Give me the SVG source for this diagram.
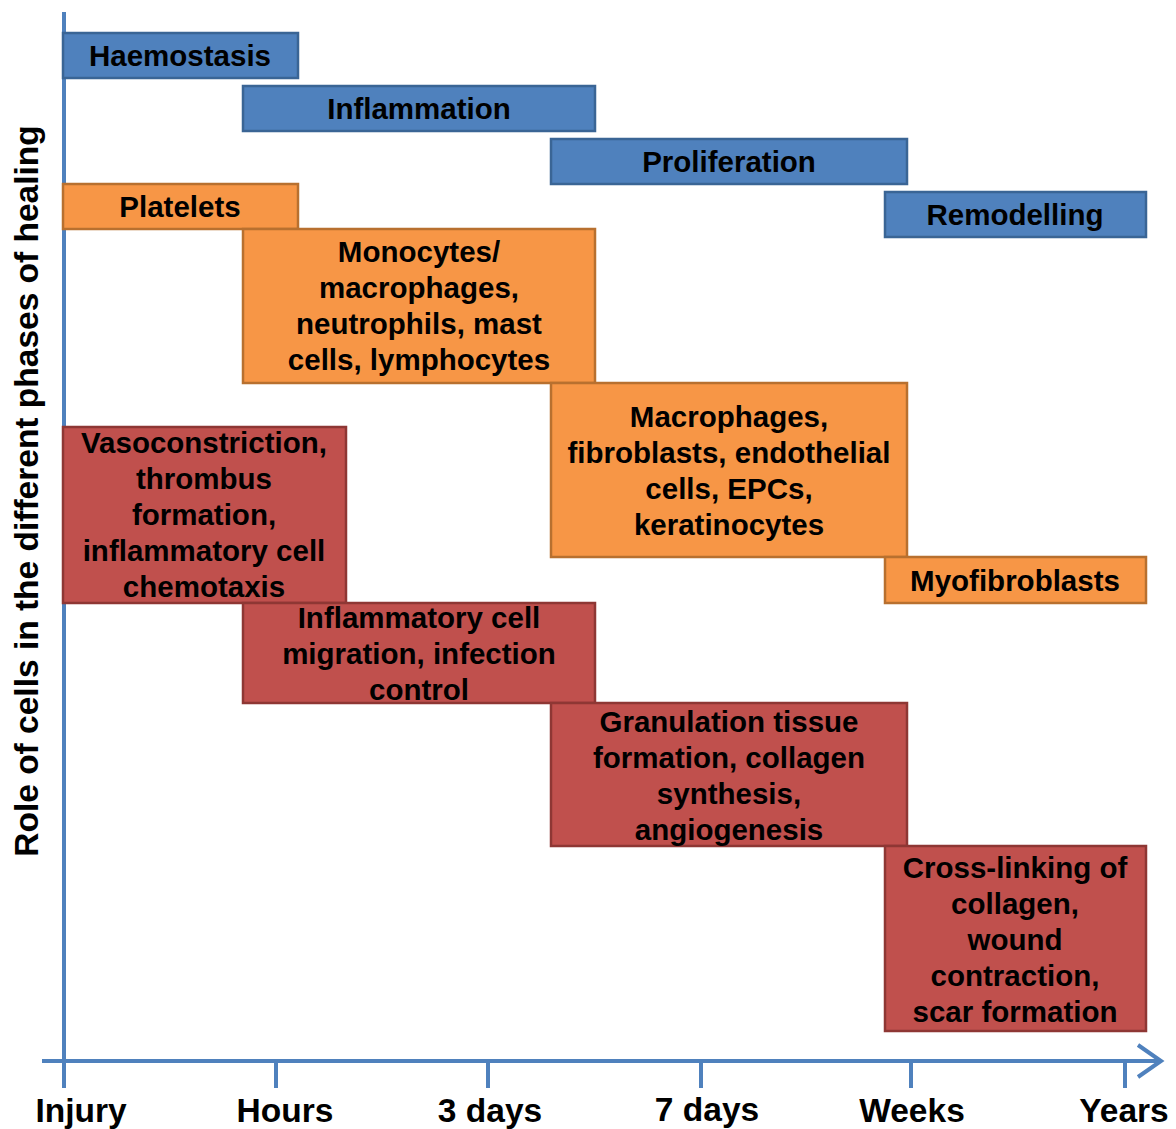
<svg xmlns="http://www.w3.org/2000/svg" width="1176" height="1129" viewBox="0 0 1176 1129">
<style>
text{font-family:"Liberation Sans",Arial,sans-serif;font-weight:bold;fill:#000;text-anchor:middle}
.t{font-size:29.5px}
.ax{font-size:33.5px}
.blue{fill:#4F81BD;stroke:#3A6595;stroke-width:2.5}
.orange{fill:#F79646;stroke:#B8702F;stroke-width:2.5}
.red{fill:#C0504D;stroke:#8E3734;stroke-width:2.5}
.axis{stroke:#4F81BD;stroke-width:4;fill:none}
</style>
<rect width="1176" height="1129" fill="#fff"/>
<g id="axes">
<line class="axis" x1="64" y1="12" x2="64" y2="1088"/>
<line class="axis" x1="42" y1="1061" x2="1160" y2="1061"/>
<polyline class="axis" points="1138,1045 1161,1061 1138,1077" stroke-width="5"/>
<line class="axis" x1="276" y1="1061" x2="276" y2="1088"/>
<line class="axis" x1="488" y1="1061" x2="488" y2="1088"/>
<line class="axis" x1="701" y1="1061" x2="701" y2="1088"/>
<line class="axis" x1="911" y1="1061" x2="911" y2="1088"/>
<line class="axis" x1="1125" y1="1061" x2="1125" y2="1088"/>
<text class="ax" x="81" y="1122">Injury</text>
<text class="ax" x="285" y="1122">Hours</text>
<text class="ax" x="490" y="1122">3 days</text>
<text class="ax" x="707" y="1121">7 days</text>
<text class="ax" x="912" y="1122">Weeks</text>
<text class="ax" x="1124" y="1122">Years</text>
<text class="ax" transform="translate(38,491) rotate(-90)">Role of cells in the different phases of healing</text>
</g>
<g id="haemostasis"><rect class="blue" x="63" y="33" width="235" height="45"/><text class="t" x="180" y="66">Haemostasis</text></g>
<g id="inflammation"><rect class="blue" x="243" y="86" width="352" height="45"/><text class="t" x="419" y="119">Inflammation</text></g>
<g id="proliferation"><rect class="blue" x="551" y="139" width="356" height="45"/><text class="t" x="729" y="172">Proliferation</text></g>
<g id="remodelling"><rect class="blue" x="885" y="192" width="261" height="45"/><text class="t" x="1015" y="225">Remodelling</text></g>
<g id="platelets"><rect class="orange" x="63" y="184" width="235" height="45"/><text class="t" x="180" y="217">Platelets</text></g>
<g id="monocytes"><rect class="orange" x="243" y="229" width="352" height="154"/><text class="t" x="419"><tspan x="419" y="262">Monocytes/</tspan><tspan x="419" y="298">macrophages,</tspan><tspan x="419" y="334">neutrophils, mast</tspan><tspan x="419" y="370">cells, lymphocytes</tspan></text></g>
<g id="macrophages"><rect class="orange" x="551" y="383" width="356" height="174"/><text class="t"><tspan x="729" y="427">Macrophages,</tspan><tspan x="729" y="463">fibroblasts, endothelial</tspan><tspan x="729" y="499">cells, EPCs,</tspan><tspan x="729" y="535">keratinocytes</tspan></text></g>
<g id="myofibroblasts"><rect class="orange" x="885" y="557" width="261" height="46"/><text class="t" x="1015" y="591">Myofibroblasts</text></g>
<g id="vasoconstriction"><rect class="red" x="63" y="427" width="283" height="176"/><text class="t"><tspan x="204" y="453">Vasoconstriction,</tspan><tspan x="204" y="489">thrombus</tspan><tspan x="204" y="525">formation,</tspan><tspan x="204" y="561">inflammatory cell</tspan><tspan x="204" y="597">chemotaxis</tspan></text></g>
<g id="migration"><rect class="red" x="243" y="603" width="352" height="100"/><text class="t"><tspan x="419" y="628">Inflammatory cell</tspan><tspan x="419" y="664">migration, infection</tspan><tspan x="419" y="700">control</tspan></text></g>
<g id="granulation"><rect class="red" x="551" y="703" width="356" height="143"/><text class="t"><tspan x="729" y="732">Granulation tissue</tspan><tspan x="729" y="768">formation, collagen</tspan><tspan x="729" y="804">synthesis,</tspan><tspan x="729" y="840">angiogenesis</tspan></text></g>
<g id="crosslinking"><rect class="red" x="885" y="846" width="261" height="185"/><text class="t"><tspan x="1015" y="878">Cross-linking of</tspan><tspan x="1015" y="914">collagen,</tspan><tspan x="1015" y="950">wound</tspan><tspan x="1015" y="986">contraction,</tspan><tspan x="1015" y="1022">scar formation</tspan></text></g>
</svg>
